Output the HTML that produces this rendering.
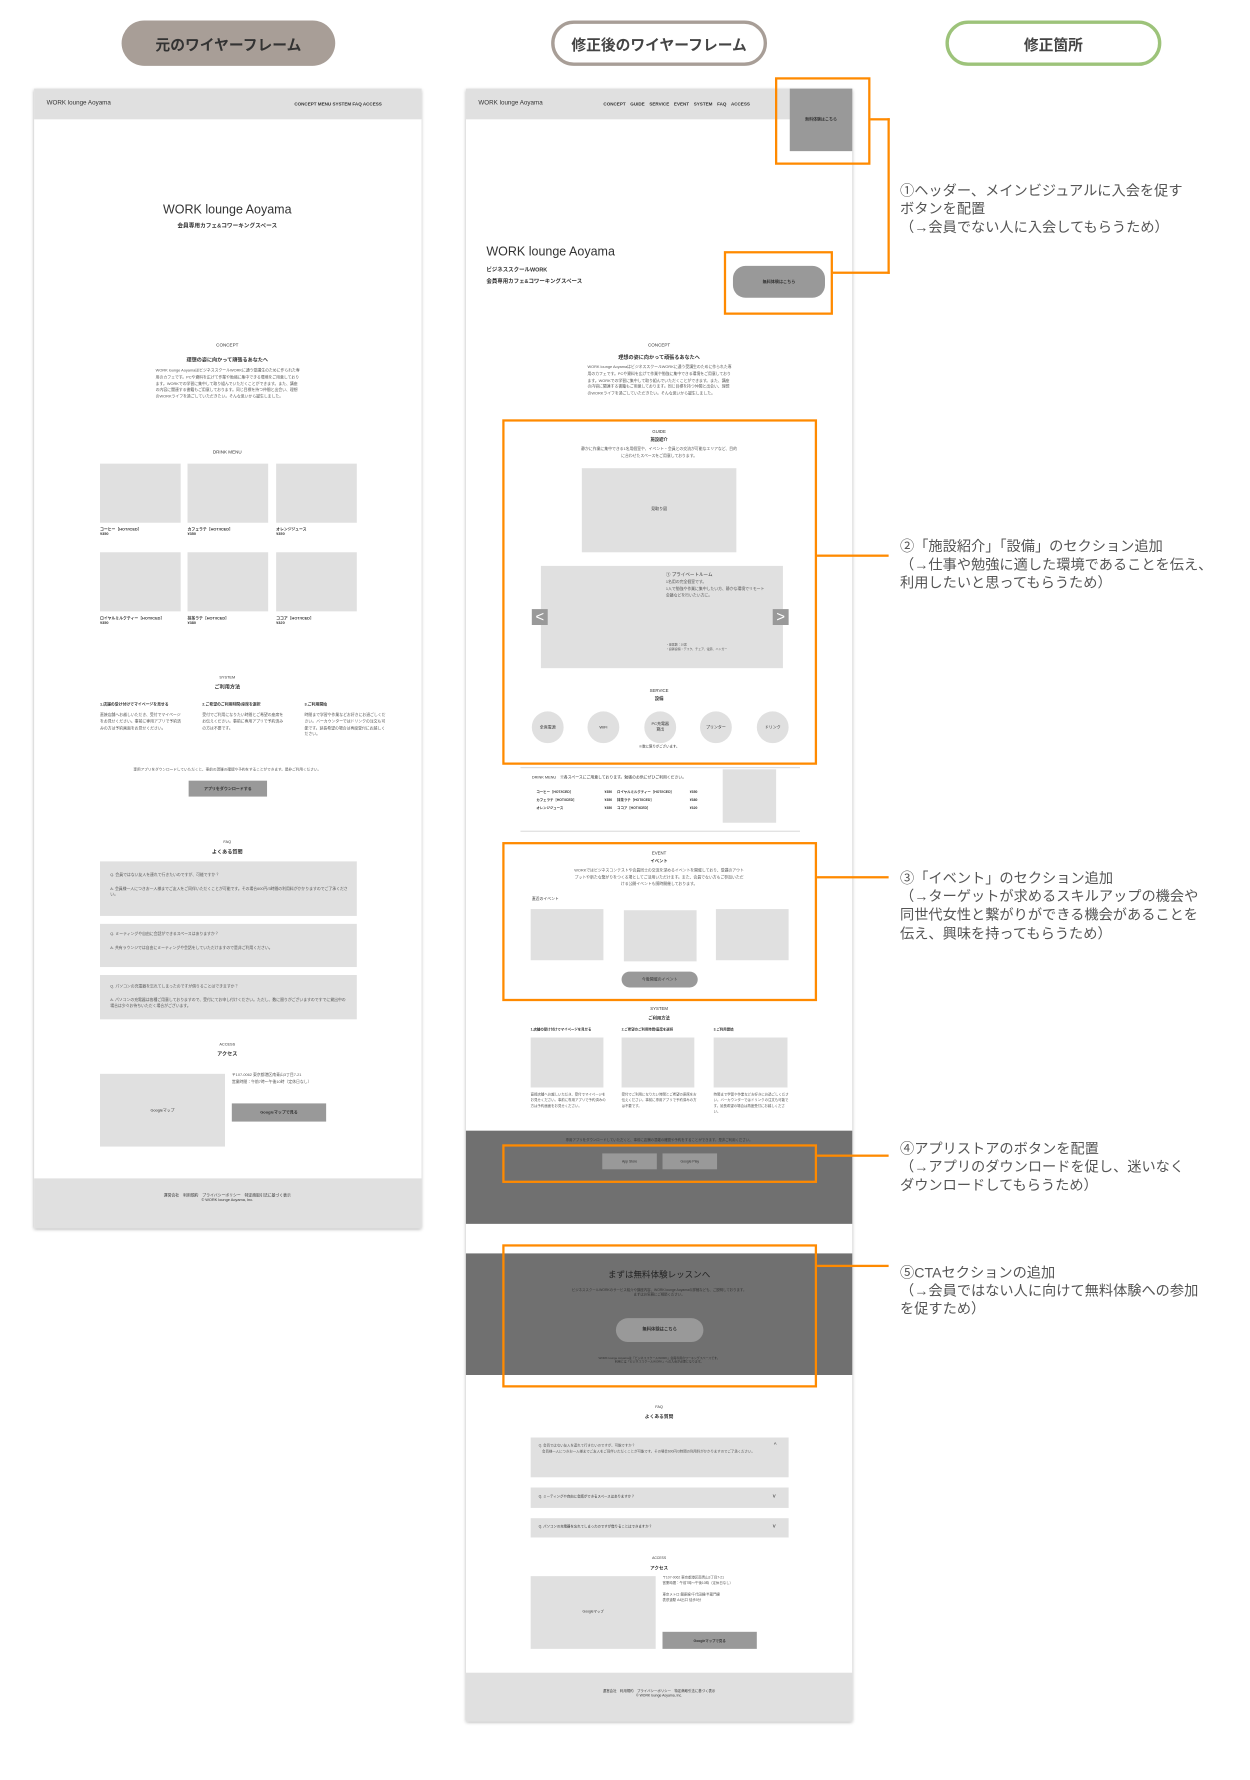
<!DOCTYPE html>
<html><head><meta charset="utf-8">
<style>
html,body{margin:0;padding:0;background:#fff;width:1250px;height:1780px;overflow:hidden}
#s{position:absolute;left:0;top:0;width:1100px;height:1566px;transform:scale(1.13636);transform-origin:0 0;font-family:"Liberation Sans","Noto Sans CJK JP",sans-serif;color:#333}
#s div{position:absolute;box-sizing:border-box}
.pill{border-radius:22px;font-size:13px;font-weight:bold;display:flex;align-items:center;justify-content:center}
.fr{background:#fff;box-shadow:0 1px 3px rgba(0,0,0,.35)}
.hd{background:#e0e0e0}
.g{background:#e0e0e0}
.d{background:#707070}
.b{background:#999}
.t{white-space:nowrap;font-size:4px;line-height:1.3}
.c{transform:translateX(-50%);text-align:center}
.bo{font-weight:bold}
.o{border:2px solid #ff8a00}
.ln{background:#ff8a00}
.an{font-size:12.5px;line-height:16.2px;color:#555;white-space:nowrap}
.p{font-size:3.4px;line-height:1.7;color:#555;white-space:normal}
.ci{border-radius:50%;background:#e0e0e0;font-size:3.5px;display:flex;align-items:center;justify-content:center;text-align:center}
.bt{display:flex;align-items:center;justify-content:center;font-size:3.5px;font-weight:bold}
</style></head><body><div id="s">

<!-- title pills -->
<div class="pill" style="left:107px;top:18px;width:188px;height:40px;background:#a89e97;color:#333">元のワイヤーフレーム</div>
<div class="pill" style="left:485px;top:18px;width:190px;height:40px;border:3px solid #a89e97;background:#fff;color:#444">修正後のワイヤーフレーム</div>
<div class="pill" style="left:832px;top:18px;width:190px;height:40px;border:3px solid #9dc37a;background:#fff;color:#444">修正箇所</div>

<!-- LEFT FRAME -->
<div class="fr" style="left:30px;top:78px;width:341px;height:1003px">
 <div class="hd" style="left:0;top:0;width:341px;height:27px"></div>
 <div class="t" style="left:11px;top:10px;font-size:5.5px">WORK lounge Aoyama</div>
 <div class="t bo" style="left:229px;top:11px;font-size:4px">CONCEPT MENU SYSTEM FAQ ACCESS</div>
 <div class="t c" style="left:170px;top:100px;font-size:11px">WORK lounge Aoyama</div>
 <div class="t c bo" style="left:170px;top:118px;font-size:5px">会員専用カフェ&amp;コワーキングスペース</div>
 <div class="t c" style="left:170px;top:223px">CONCEPT</div>
 <div class="t c bo" style="left:170px;top:236px;font-size:4.5px">理想の姿に向かって頑張るあなたへ</div>
 <div class="p" style="left:107px;top:246px;width:128px">WORK lounge AoyamaはビジネススクールWORKに通う受講生のために作られた専用のカフェです。PCや資料を広げて作業や勉強に集中できる環境をご用意しております。WORKでの学習に集中して取り組んでいただくことができます。また、講座の内容に関連する書籍もご用意しております。同じ目標を持つ仲間と出会い、理想のWORKライフを過ごしていただきたい。そんな思いから誕生しました。</div>
 <div class="t c" style="left:170px;top:317px">DRINK MENU</div>
 <div class="g" style="left:58px;top:330px;width:71px;height:52px"></div>
 <div class="g" style="left:135px;top:330px;width:71px;height:52px"></div>
 <div class="g" style="left:213px;top:330px;width:71px;height:52px"></div>
 <div class="t bo" style="left:58px;top:386px;font-size:3.4px">コーヒー［HOT/ICED］<br>¥350</div>
 <div class="t bo" style="left:135px;top:386px;font-size:3.4px">カフェラテ［HOT/ICED］<br>¥350</div>
 <div class="t bo" style="left:213px;top:386px;font-size:3.4px">オレンジジュース<br>¥350</div>
 <div class="g" style="left:58px;top:408px;width:71px;height:52px"></div>
 <div class="g" style="left:135px;top:408px;width:71px;height:52px"></div>
 <div class="g" style="left:213px;top:408px;width:71px;height:52px"></div>
 <div class="t bo" style="left:58px;top:464px;font-size:3.4px">ロイヤルミルクティー［HOT/ICED］<br>¥350</div>
 <div class="t bo" style="left:135px;top:464px;font-size:3.4px">抹茶ラテ［HOT/ICED］<br>¥380</div>
 <div class="t bo" style="left:213px;top:464px;font-size:3.4px">ココア［HOT/ICED］<br>¥320</div>
 <div class="t c" style="left:170px;top:516px;font-size:3.4px">SYSTEM</div>
 <div class="t c bo" style="left:170px;top:524px;font-size:4.5px">ご利用方法</div>
 <div class="t bo" style="left:58px;top:540px;font-size:3.4px">1.店舗の受け付けでマイページを見せる</div>
 <div class="t bo" style="left:148px;top:540px;font-size:3.4px">2.ご希望のご利用時間/座席を選択</div>
 <div class="t bo" style="left:238px;top:540px;font-size:3.4px">3.ご利用開始</div>
 <div class="p" style="left:58px;top:549px;width:72px">直接店舗へお越しいただき、受付でマイページをお見せください。事前に専用アプリで予約済みの方は予約画面をお見せください。</div>
 <div class="p" style="left:148px;top:549px;width:72px">受付でご利用になりたい時間とご希望の座席をお伝えください。事前に専用アプリで予約済みの方は不要です。</div>
 <div class="p" style="left:238px;top:549px;width:72px">時間まで学習や作業などお好きにお過ごしください。バーカウンターではドリンクの注文も可能です。延長希望の場合は再度受付にお越しください。</div>
 <div class="t c" style="left:170px;top:597px;font-size:3.2px;color:#555">専用アプリをダウンロードしていただくと、事前の混雑の確認や予約をすることができます。是非ご利用ください。</div>
 <div class="b bt" style="left:136px;top:609px;width:69px;height:14px">アプリをダウンロードする</div>
 <div class="t c" style="left:170px;top:661px;font-size:3.4px">FAQ</div>
 <div class="t c bo" style="left:170px;top:669px;font-size:4.5px">よくある質問</div>
 <div class="g" style="left:58px;top:680px;width:226px;height:48px"></div>
 <div class="p" style="left:67px;top:690px;width:210px">Q. 会員ではない友人を連れて行きたいのですが、可能ですか？<br><br>A. 会員様一人につきお一人様までご友人をご同伴いただくことが可能です。その場合600円/3時間の利用料がかかりますのでご了承ください。</div>
 <div class="g" style="left:58px;top:735px;width:226px;height:38px"></div>
 <div class="p" style="left:67px;top:742px;width:210px">Q. ミーティングや自由に会話ができるスペースはありますか？<br><br>A. 共有ラウンジでは自由にミーティングや会話をしていただけますので是非ご利用ください。</div>
 <div class="g" style="left:58px;top:780px;width:226px;height:39px"></div>
 <div class="p" style="left:67px;top:788px;width:210px">Q. パソコンの充電器を忘れてしまったのですが借りることはできますか？<br><br>A. パソコンの充電器は各種ご用意しておりますので、受付にてお申し付けください。ただし、数に限りがございますのですでに貸出中の場合は少々お待ちいただく場合がございます。</div>
 <div class="t c" style="left:170px;top:839px;font-size:3.4px">ACCESS</div>
 <div class="t c bo" style="left:170px;top:847px;font-size:4.5px">アクセス</div>
 <div class="g" style="left:58px;top:867px;width:110px;height:64px"></div>
 <div class="t c" style="left:113px;top:897px;font-size:3.4px">Googleマップ</div>
 <div class="p" style="left:174px;top:866px;width:110px">〒107-0062 東京都港区南青山3丁目7-21<br>営業時間：午前7時〜午後10時（定休日なし）</div>
 <div class="b bt" style="left:174px;top:893px;width:83px;height:16px">Googleマップで見る</div>
 <div class="g" style="left:0;top:959px;width:341px;height:44px"></div>
 <div class="t c" style="left:170px;top:972px;font-size:3.4px">運営会社　利用規約　プライバシーポリシー　特定商取引法に基づく表示<br>© WORK lounge Aoyama, Inc.</div>
</div>

<!-- MIDDLE FRAME -->
<div class="fr" style="left:410px;top:78px;width:340px;height:1437px">
 <div class="hd" style="left:0;top:0;width:340px;height:27px"></div>
 <div class="t" style="left:11px;top:10px;font-size:5.5px">WORK lounge Aoyama</div>
 <div class="t bo" style="left:121px;top:11px;font-size:4px;word-spacing:3px">CONCEPT GUIDE SERVICE EVENT SYSTEM FAQ ACCESS</div>
 <div class="b bt" style="left:285px;top:0;width:55px;height:55px;font-size:3.5px">無料体験はこちら</div>
 <div class="t" style="left:18px;top:137px;font-size:11px">WORK lounge Aoyama</div>
 <div class="t bo" style="left:18px;top:156px;font-size:4.8px;line-height:2.1">ビジネススクールWORK<br>会員専用カフェ&amp;コワーキングスペース</div>
 <div class="b bt" style="left:235px;top:156px;width:81px;height:28px;border-radius:11px;font-size:3.6px">無料体験はこちら</div>
 <div class="t c" style="left:170px;top:223px">CONCEPT</div>
 <div class="t c bo" style="left:170px;top:234px;font-size:4.5px">理想の姿に向かって頑張るあなたへ</div>
 <div class="p" style="left:107px;top:243px;width:128px">WORK lounge AoyamaはビジネススクールWORKに通う受講生のために作られた専用のカフェです。PCや資料を広げて作業や勉強に集中できる環境をご用意しております。WORKでの学習に集中して取り組んでいただくことができます。また、講座の内容に関連する書籍もご用意しております。同じ目標を持つ仲間と出会い、理想のWORKライフを過ごしていただきたい。そんな思いから誕生しました。</div>
 <!-- guide -->
 <div class="t c" style="left:170px;top:300px;font-size:3.8px">GUIDE</div>
 <div class="t c bo" style="left:170px;top:307px;font-size:3.8px">施設紹介</div>
 <div class="p" style="left:100px;top:315px;width:140px;text-align:center">静かに作業に集中できる1名用個室や、イベント・会員との交流が可能なエリアなど、目的に合わせたスペースをご用意しております。</div>
 <div class="g" style="left:102px;top:334px;width:136px;height:74px"></div>
 <div class="t c" style="left:170px;top:368px;font-size:3.5px">見取り図</div>
 <div class="g" style="left:66px;top:420px;width:213px;height:90px"></div>
 <div class="t" style="left:176px;top:425px;font-size:4px">① プライベートルーム</div>
 <div class="p" style="left:176px;top:432px;width:90px">1名用の完全個室です。<br>1人で勉強や作業に集中したい方、静かな環境でリモート会議などを行いたい方に。</div>
 <div class="p" style="left:176px;top:488px;width:90px;font-size:2.6px">・座席数：10席<br>・設置設備：デスク、チェア、電源、ハンガー</div>
 <div style="left:58px;top:458px;width:14px;height:14px;background:#999;color:#fff;font-size:13px;line-height:13px;text-align:center">&lt;</div>
 <div style="left:270px;top:458px;width:14px;height:14px;background:#999;color:#fff;font-size:13px;line-height:13px;text-align:center">&gt;</div>
 <div class="t c" style="left:170px;top:528px;font-size:3.8px">SERVICE</div>
 <div class="t c bo" style="left:170px;top:535px;font-size:3.8px">設備</div>
 <div class="ci" style="left:58px;top:548px;width:28px;height:28px">全席電源</div>
 <div class="ci" style="left:107px;top:548px;width:28px;height:28px">WiFi</div>
 <div class="ci" style="left:157px;top:548px;width:28px;height:28px">PC充電器<br>貸出</div>
 <div class="ci" style="left:206px;top:548px;width:28px;height:28px">プリンター</div>
 <div class="ci" style="left:256px;top:548px;width:28px;height:28px">ドリンク</div>
 <div class="t c" style="left:170px;top:578px;font-size:3px">※数に限りがございます。</div>
 <div style="left:48px;top:597px;width:246px;height:1px;background:#ddd"></div>
 <!-- drink -->
 <div class="t" style="left:58px;top:604px;font-size:3.4px">DRINK MENU　※各スペースにご用意しております。勉強のお供にぜひご利用ください。</div>
 <div class="t bo" style="left:62px;top:616px;font-size:3px;line-height:2.3">コーヒー［HOT/ICED］<br>カフェラテ［HOT/ICED］<br>オレンジジュース</div>
 <div class="t bo" style="left:122px;top:616px;font-size:3px;line-height:2.3">¥350<br>¥350<br>¥350</div>
 <div class="t bo" style="left:133px;top:616px;font-size:3px;line-height:2.3">ロイヤルミルクティー［HOT/ICED］<br>抹茶ラテ［HOT/ICED］<br>ココア［HOT/ICED］</div>
 <div class="t bo" style="left:197px;top:616px;font-size:3px;line-height:2.3">¥350<br>¥380<br>¥320</div>
 <div class="g" style="left:226px;top:599px;width:47px;height:47px"></div>
 <div style="left:48px;top:653px;width:246px;height:1px;background:#ddd"></div>
 <!-- event -->
 <div class="t c" style="left:170px;top:671px;font-size:3.8px">EVENT</div>
 <div class="t c bo" style="left:170px;top:678px;font-size:3.8px">イベント</div>
 <div class="p" style="left:95px;top:686px;width:150px;text-align:center">WORKではビジネスコンテストや会員同士の交流を深めるイベントを開催しており、受講のアウトプットや新たな繋がりをつくる場としてご活用いただけます。また、会員でない方もご参加いただける公開イベントも随時開催しております。</div>
 <div class="t" style="left:58px;top:711px;font-size:3.4px">直近のイベント</div>
 <div class="g" style="left:57px;top:722px;width:64px;height:45px"></div>
 <div class="g" style="left:139px;top:723px;width:64px;height:45px"></div>
 <div class="g" style="left:220px;top:722px;width:64px;height:45px"></div>
 <div class="b bt" style="left:137px;top:777px;width:67px;height:14px;border-radius:7px;font-weight:normal">今後開催のイベント</div>
 <!-- system -->
 <div class="t c" style="left:170px;top:808px;font-size:3.8px">SYSTEM</div>
 <div class="t c bo" style="left:170px;top:816px;font-size:3.8px">ご利用方法</div>
 <div class="t bo" style="left:57px;top:827px;font-size:3px">1.店舗の受け付けでマイページを見せる</div>
 <div class="t bo" style="left:137px;top:827px;font-size:3px">2.ご希望のご利用時間/座席を選択</div>
 <div class="t bo" style="left:218px;top:827px;font-size:3px">3.ご利用開始</div>
 <div class="g" style="left:57px;top:835px;width:64px;height:44px"></div>
 <div class="g" style="left:137px;top:835px;width:64px;height:44px"></div>
 <div class="g" style="left:218px;top:835px;width:65px;height:44px"></div>
 <div class="p" style="left:57px;top:883px;width:66px;font-size:3px">直接店舗へお越しいただき、受付でマイページをお見せください。事前に専用アプリで予約済みの方は予約画面をお見せください。</div>
 <div class="p" style="left:137px;top:883px;width:66px;font-size:3px">受付でご利用になりたい時間とご希望の座席をお伝えください。事前に専用アプリで予約済みの方は不要です。</div>
 <div class="p" style="left:218px;top:883px;width:66px;font-size:3px">時間まで学習や作業などお好きにお過ごしください。バーカウンターではドリンクの注文も可能です。延長希望の場合は再度受付にお越しください。</div>
 <!-- app band -->
 <div class="d" style="left:0;top:917px;width:340px;height:82px"></div>
 <div class="t c" style="left:170px;top:924px;font-size:3px;color:#333">専用アプリをダウンロードしていただくと、事前に店舗の混雑の確認や予約をすることができます。是非ご利用ください。</div>
 <div class="b bt" style="left:120px;top:937px;width:48px;height:14px;font-weight:normal;font-size:3px">App Store</div>
 <div class="b bt" style="left:173px;top:937px;width:48px;height:14px;font-weight:normal;font-size:3px">Google Play</div>
 <!-- CTA -->
 <div class="d" style="left:0;top:1025px;width:340px;height:107px"></div>
 <div class="t c" style="left:170px;top:1039px;font-size:7.5px;color:#222">まずは無料体験レッスンへ</div>
 <div class="t c" style="left:170px;top:1056px;font-size:3px;color:#333">ビジネススクールWORKのサービス紹介や講座内容、WORK lounge Aoyamaの詳細なども、ご説明しております。<br>まずはお気軽にご相談ください。</div>
 <div class="b bt" style="left:132px;top:1082px;width:77px;height:21px;border-radius:11px;font-size:3.8px">無料体験はこちら</div>
 <div class="t c" style="left:170px;top:1116px;font-size:2.6px;color:#333">WORK lounge Aoyamaは「ビジネススクールWORK」会員専用のワーキングスペースです。<br>利用には「ビジネススクールWORK」への入会が必要になります。</div>
 <!-- faq -->
 <div class="t c" style="left:170px;top:1158px;font-size:3.4px">FAQ</div>
 <div class="t c bo" style="left:170px;top:1166px;font-size:4.2px">よくある質問</div>
 <div class="g" style="left:57px;top:1187px;width:227px;height:35px"></div>
 <div class="p" style="left:64px;top:1192px;width:210px;font-size:3px">Q. 会員ではない友人を連れて行きたいのですが、可能ですか？<br>　会員様一人につきお一人様までご友人をご同伴いただくことが可能です。その場合600円/3時間の利用料がかかりますのでご了承ください。</div>
 <div class="t" style="left:271px;top:1191px;font-size:5px">^</div>
 <div class="g" style="left:57px;top:1231px;width:227px;height:18px"></div>
 <div class="t" style="left:64px;top:1238px;font-size:3px">Q. ミーティングや自由に会話ができるスペースはありますか？</div>
 <div class="t" style="left:270px;top:1236px;font-size:5px">v</div>
 <div class="g" style="left:57px;top:1258px;width:227px;height:17px"></div>
 <div class="t" style="left:64px;top:1264px;font-size:3px">Q. パソコンの充電器を忘れてしまったのですが借りることはできますか？</div>
 <div class="t" style="left:270px;top:1262px;font-size:5px">v</div>
 <!-- access -->
 <div class="t c" style="left:170px;top:1292px;font-size:3px">ACCESS</div>
 <div class="t c bo" style="left:170px;top:1299px;font-size:4px">アクセス</div>
 <div class="g" style="left:57px;top:1309px;width:110px;height:64px"></div>
 <div class="t c" style="left:112px;top:1339px;font-size:3px">Googleマップ</div>
 <div class="p" style="left:173px;top:1308px;width:100px;font-size:3px">〒107-0062 東京都港区南青山3丁目7-21<br>営業時間：午前7時〜午後10時（定休日なし）<br><br>東京メトロ 銀座線/千代田線/半蔵門線<br>表参道駅 A4出口 徒歩5分</div>
 <div class="b bt" style="left:173px;top:1358px;width:83px;height:15px;font-size:3px">Googleマップで見る</div>
 <div class="g" style="left:0;top:1394px;width:340px;height:43px"></div>
 <div class="t c" style="left:170px;top:1409px;font-size:3px">運営会社　利用規約　プライバシーポリシー　特定商取引法に基づく表示<br>© WORK lounge Aoyama, Inc.</div>
</div>

<!-- ORANGE BOXES -->
<div class="o" style="left:682px;top:68px;width:84px;height:77px"></div>
<div class="o" style="left:637px;top:221px;width:96px;height:56px"></div>
<div class="ln" style="left:766px;top:104px;width:17px;height:2px"></div>
<div class="ln" style="left:781px;top:104px;width:2px;height:137px"></div>
<div class="ln" style="left:733px;top:239px;width:50px;height:2px"></div>
<div class="o" style="left:442px;top:369px;width:277px;height:304px"></div>
<div class="ln" style="left:719px;top:488px;width:63px;height:2px"></div>
<div class="o" style="left:442px;top:741px;width:277px;height:140px"></div>
<div class="ln" style="left:719px;top:771px;width:63px;height:2px"></div>
<div class="o" style="left:442px;top:1007px;width:277px;height:34px"></div>
<div class="ln" style="left:719px;top:1016px;width:63px;height:2px"></div>
<div class="o" style="left:442px;top:1095px;width:277px;height:126px"></div>
<div class="ln" style="left:719px;top:1113px;width:63px;height:2px"></div>

<!-- annotations -->
<div class="an" style="left:792px;top:160px">①ヘッダー、メインビジュアルに入会を促す<br>ボタンを配置<br>（→会員でない人に入会してもらうため）</div>
<div class="an" style="left:792px;top:473px">②「施設紹介」「設備」のセクション追加<br>（→仕事や勉強に適した環境であることを伝え、<br>利用したいと思ってもらうため）</div>
<div class="an" style="left:792px;top:765px">③「イベント」のセクション追加<br>（→ターゲットが求めるスキルアップの機会や<br>同世代女性と繋がりができる機会があることを<br>伝え、興味を持ってもらうため）</div>
<div class="an" style="left:792px;top:1003px">④アプリストアのボタンを配置<br>（→アプリのダウンロードを促し、迷いなく<br>ダウンロードしてもらうため）</div>
<div class="an" style="left:792px;top:1112px">⑤CTAセクションの追加<br>（→会員ではない人に向けて無料体験への参加<br>を促すため）</div>

</div></body></html>
